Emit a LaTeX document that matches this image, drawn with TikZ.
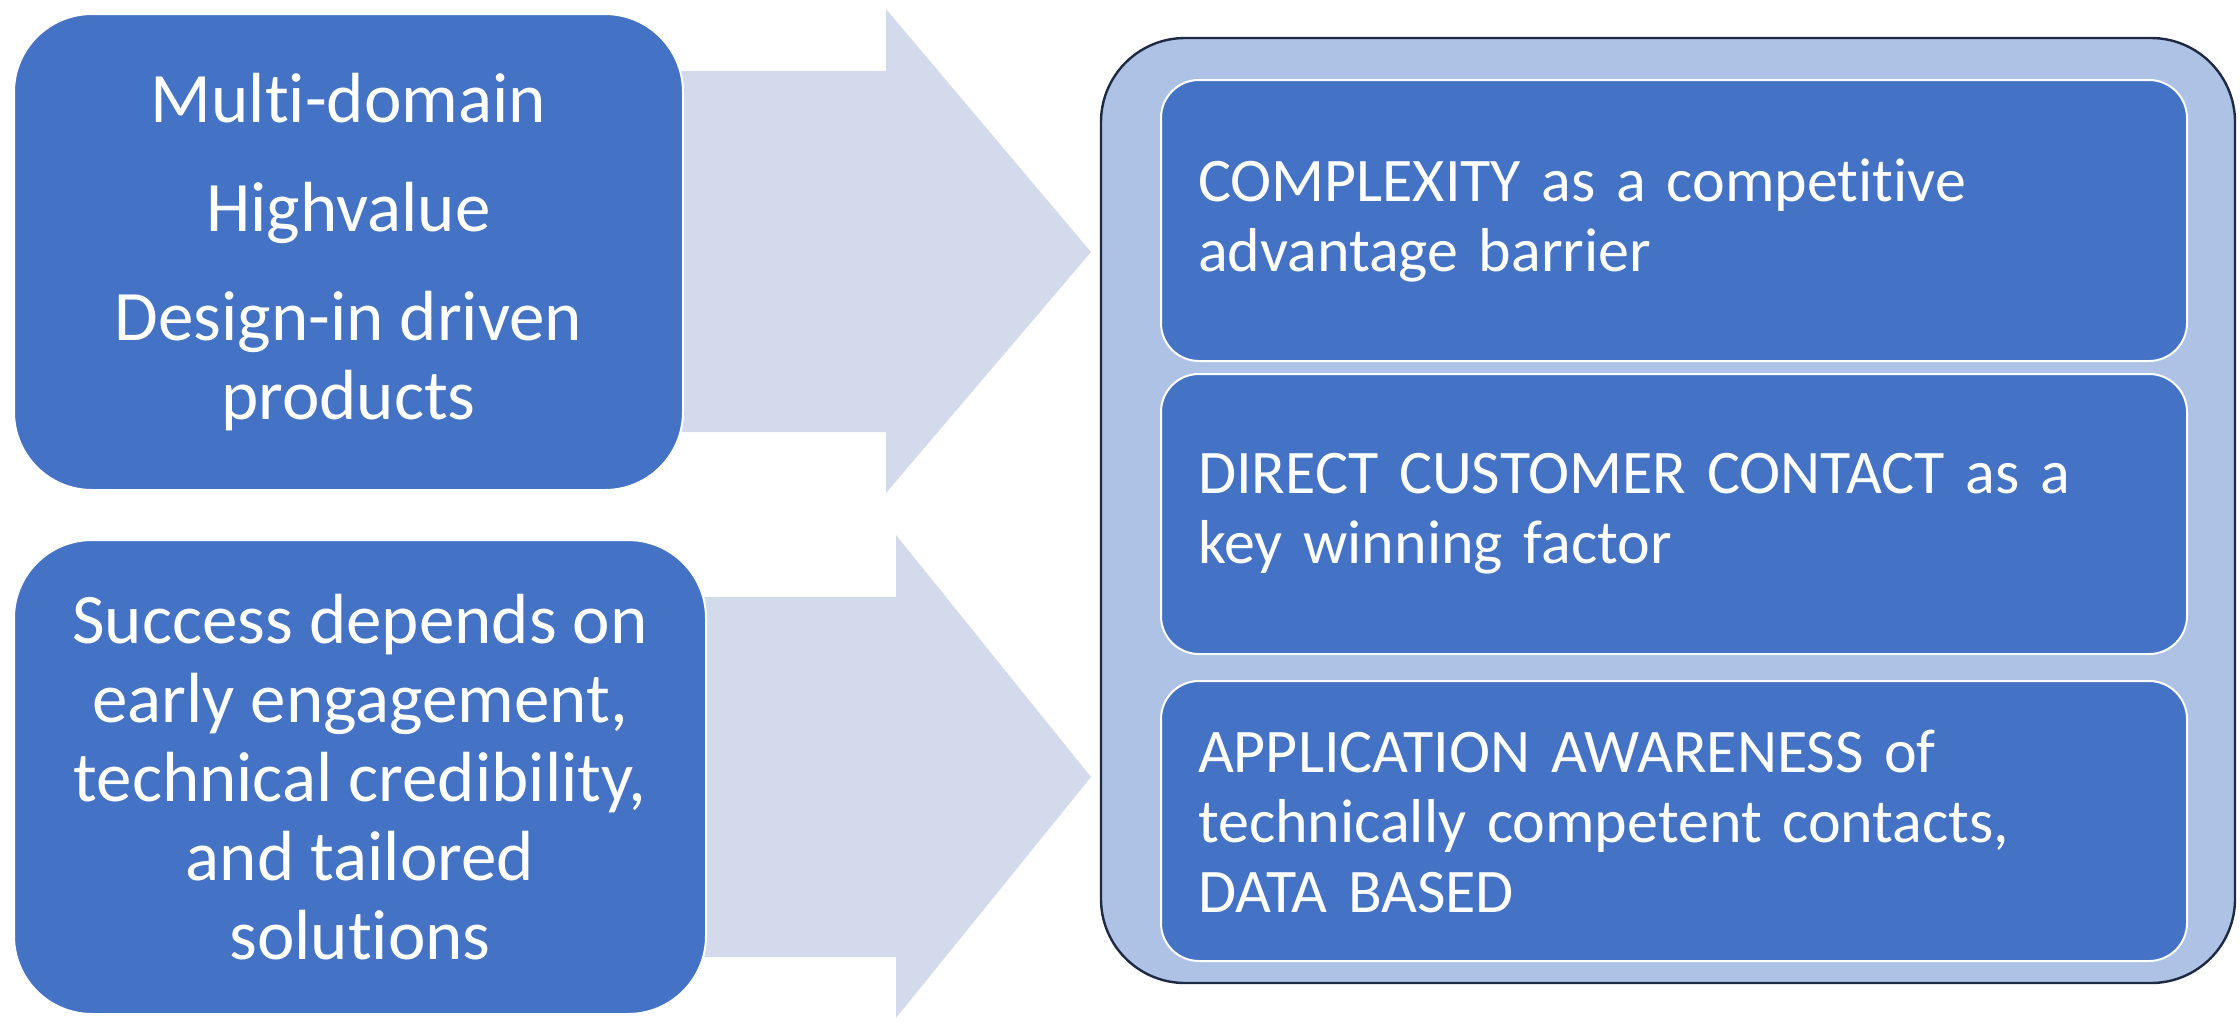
\documentclass[tikz,border=0pt]{standalone}
\usepackage{fontspec}
\setmainfont{Carlito}[RawFeature={-liga;-clig;-calt;-dlig;-rlig}]
\definecolor{boxblue}{RGB}{68,114,196}
\definecolor{arrowfill}{RGB}{211,218,236}
\definecolor{panelfill}{RGB}{174,194,229}
\definecolor{paneledge}{RGB}{30,42,68}
\begin{document}
\begin{tikzpicture}[x=0.5pt,y=-0.5pt,
  sidebox/.style={draw=white, line width=1pt, fill=boxblue, rounded corners=39pt,
    text=white, align=center, inner sep=0pt,
    font=\fontsize{35.5}{39.5}\selectfont},
  panel/.style={draw=paneledge, line width=1.2pt, fill=panelfill, rounded corners=42pt,
    inner sep=0pt},
  itembox/.style={draw=white, line width=1pt, fill=boxblue, rounded corners=19pt,
    text=white, align=left, inner xsep=18.5pt, inner ysep=0pt,
    minimum width=513pt, text width=476pt,
    font=\fontsize{31}{35}\selectfont},
  bigarrow/.style={fill=arrowfill, draw=none}]
\useasboundingbox (0,0) rectangle (2240,1024);

% broad arrows, drawn first so the boxes cover their tails
\fill[bigarrow] (600,71) -- (886,71) -- (886,9) -- (1091,252) -- (886,493)
  -- (886,432) -- (600,432) -- cycle;
\fill[bigarrow] (600,597) -- (896,597) -- (896,535) -- (1091,777) -- (896,1018)
  -- (896,957) -- (600,957) -- cycle;

% left-hand boxes
\node[sidebox, minimum width=334.5pt, minimum height=238pt] (products) at (348.5,252)
  {Multi-domain\\[15pt]Highvalue\\[15pt]Design-in driven\\products};
\node[sidebox, minimum width=346pt, minimum height=237pt] (success) at (360,777)
  {Success depends on\\early engagement,\\technical credibility,\\and tailored\\solutions};

% right-hand panel with its three statements
\node[panel, minimum width=567pt, minimum height=472.5pt] (panel) at (1668,510.5) {};
\node[itembox, minimum height=140.5pt] (complexity) at (1674,220.5)
  {COMPLEXITY as a competitive\\advantage barrier};
\node[itembox, minimum height=140pt] (contact) at (1674,514)
  {DIRECT CUSTOMER CONTACT as a\\key winning factor};
\node[itembox, minimum height=140pt] (awareness) at (1674,821)
  {APPLICATION AWARENESS of\\technically competent contacts,\\DATA BASED};
\end{tikzpicture}
\end{document}
